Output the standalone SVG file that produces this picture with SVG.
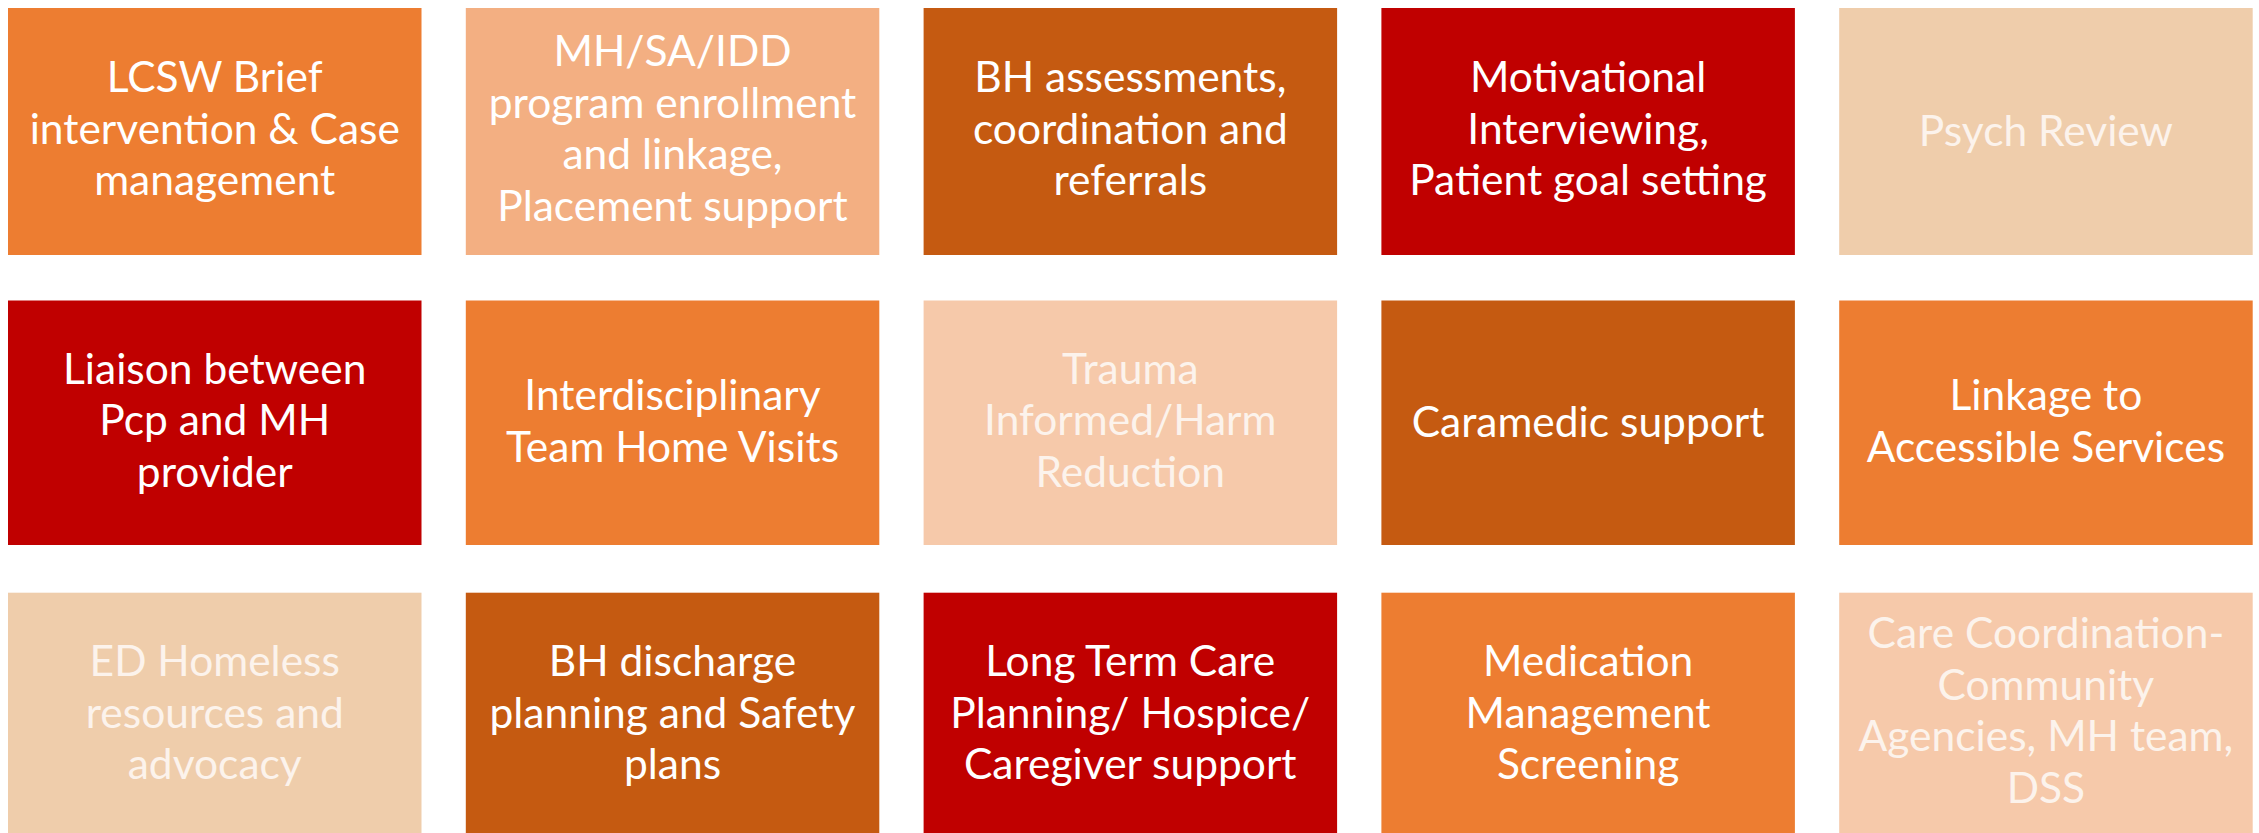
<svg xmlns="http://www.w3.org/2000/svg" width="2259" height="833" viewBox="0 0 2259 833">
  <style>
    .box { stroke: none; }
    .orange { fill: #ED7D31; }
    .peach { fill: #F3AF82; }
    .rust { fill: #C55A11; }
    .red { fill: #C00000; }
    .sand { fill: #EFCDAB; }
    .blush { fill: #F6C9AA; }
    text { font-family: Lato, "Open Sans", "Liberation Sans", sans-serif; font-size: 42.5px; text-anchor: middle; fill: #FFFFFF; }
    text.soft { fill: #FCF3EC; }
  </style>
  <rect width="2259" height="833" fill="#FFFFFF"/>

  <!-- Row 1 -->
  <g id="lcsw-brief">
    <rect class="box orange" x="8" y="8" width="413.5" height="247"/>
    <text x="214.75"><tspan x="214.75" y="92">LCSW Brief</tspan><tspan x="214.75" y="143.5">intervention &amp; Case</tspan><tspan x="214.75" y="195">management</tspan></text>
  </g>
  <g id="program-enrollment">
    <rect class="box peach" x="465.8" y="8" width="413.5" height="247"/>
    <text x="672.5"><tspan x="672.5" y="66">MH/SA/IDD</tspan><tspan x="672.5" y="117.5">program enrollment</tspan><tspan x="672.5" y="169">and linkage,</tspan><tspan x="672.5" y="220.5">Placement support</tspan></text>
  </g>
  <g id="bh-assessments">
    <rect class="box rust" x="923.6" y="8" width="413.5" height="247"/>
    <text x="1130.3"><tspan x="1130.3" y="92">BH assessments,</tspan><tspan x="1130.3" y="143.5">coordination and</tspan><tspan x="1130.3" y="195">referrals</tspan></text>
  </g>
  <g id="motivational-interviewing">
    <rect class="box red" x="1381.4" y="8" width="413.5" height="247"/>
    <text x="1588.1"><tspan x="1588.1" y="92">Motivational</tspan><tspan x="1588.1" y="143.5">Interviewing,</tspan><tspan x="1588.1" y="195">Patient goal setting</tspan></text>
  </g>
  <g id="psych-review">
    <rect class="box sand" x="1839.2" y="8" width="413.5" height="247"/>
    <text class="soft" x="2045.9" y="145.5">Psych Review</text>
  </g>

  <!-- Row 2 -->
  <g id="pcp-liaison">
    <rect class="box red" x="8" y="300.5" width="413.5" height="244.5"/>
    <text x="214.75"><tspan x="214.75" y="383.5">Liaison between</tspan><tspan x="214.75" y="435">Pcp and MH</tspan><tspan x="214.75" y="486.5">provider</tspan></text>
  </g>
  <g id="home-visits">
    <rect class="box orange" x="465.8" y="300.5" width="413.5" height="244.5"/>
    <text x="672.5"><tspan x="672.5" y="410">Interdisciplinary</tspan><tspan x="672.5" y="461.5">Team Home Visits</tspan></text>
  </g>
  <g id="trauma-informed">
    <rect class="box blush" x="923.6" y="300.5" width="413.5" height="244.5"/>
    <text class="soft" x="1130.3"><tspan x="1130.3" y="383.5">Trauma</tspan><tspan x="1130.3" y="435">Informed/Harm</tspan><tspan x="1130.3" y="486.5">Reduction</tspan></text>
  </g>
  <g id="caramedic-support">
    <rect class="box rust" x="1381.4" y="300.5" width="413.5" height="244.5"/>
    <text x="1588.1" y="436.5">Caramedic support</text>
  </g>
  <g id="accessible-services">
    <rect class="box orange" x="1839.2" y="300.5" width="413.5" height="244.5"/>
    <text x="2045.9"><tspan x="2045.9" y="410">Linkage to</tspan><tspan x="2045.9" y="461.5">Accessible Services</tspan></text>
  </g>

  <!-- Row 3 (runs past the bottom edge) -->
  <g id="ed-homeless">
    <rect class="box sand" x="8" y="592.7" width="413.5" height="245"/>
    <text class="soft" x="214.75"><tspan x="214.75" y="676">ED Homeless</tspan><tspan x="214.75" y="727.5">resources and</tspan><tspan x="214.75" y="779">advocacy</tspan></text>
  </g>
  <g id="bh-discharge">
    <rect class="box rust" x="465.8" y="592.7" width="413.5" height="245"/>
    <text x="672.5"><tspan x="672.5" y="676">BH discharge</tspan><tspan x="672.5" y="727.5">planning and Safety</tspan><tspan x="672.5" y="779">plans</tspan></text>
  </g>
  <g id="long-term-care">
    <rect class="box red" x="923.6" y="592.7" width="413.5" height="245"/>
    <text x="1130.3"><tspan x="1130.3" y="676">Long Term Care</tspan><tspan x="1130.3" y="727.5">Planning/ Hospice/</tspan><tspan x="1130.3" y="779">Caregiver support</tspan></text>
  </g>
  <g id="medication-management">
    <rect class="box orange" x="1381.4" y="592.7" width="413.5" height="245"/>
    <text x="1588.1"><tspan x="1588.1" y="676">Medication</tspan><tspan x="1588.1" y="727.5">Management</tspan><tspan x="1588.1" y="779">Screening</tspan></text>
  </g>
  <g id="care-coordination">
    <rect class="box blush" x="1839.2" y="592.7" width="413.5" height="245"/>
    <text class="soft" x="2045.9"><tspan x="2045.9" y="648">Care Coordination-</tspan><tspan x="2045.9" y="699.5">Community</tspan><tspan x="2045.9" y="751">Agencies, MH team,</tspan><tspan x="2045.9" y="802.5">DSS</tspan></text>
  </g>

  <!-- no connectors in this layout -->
  <g id="connectors"/>
</svg>
